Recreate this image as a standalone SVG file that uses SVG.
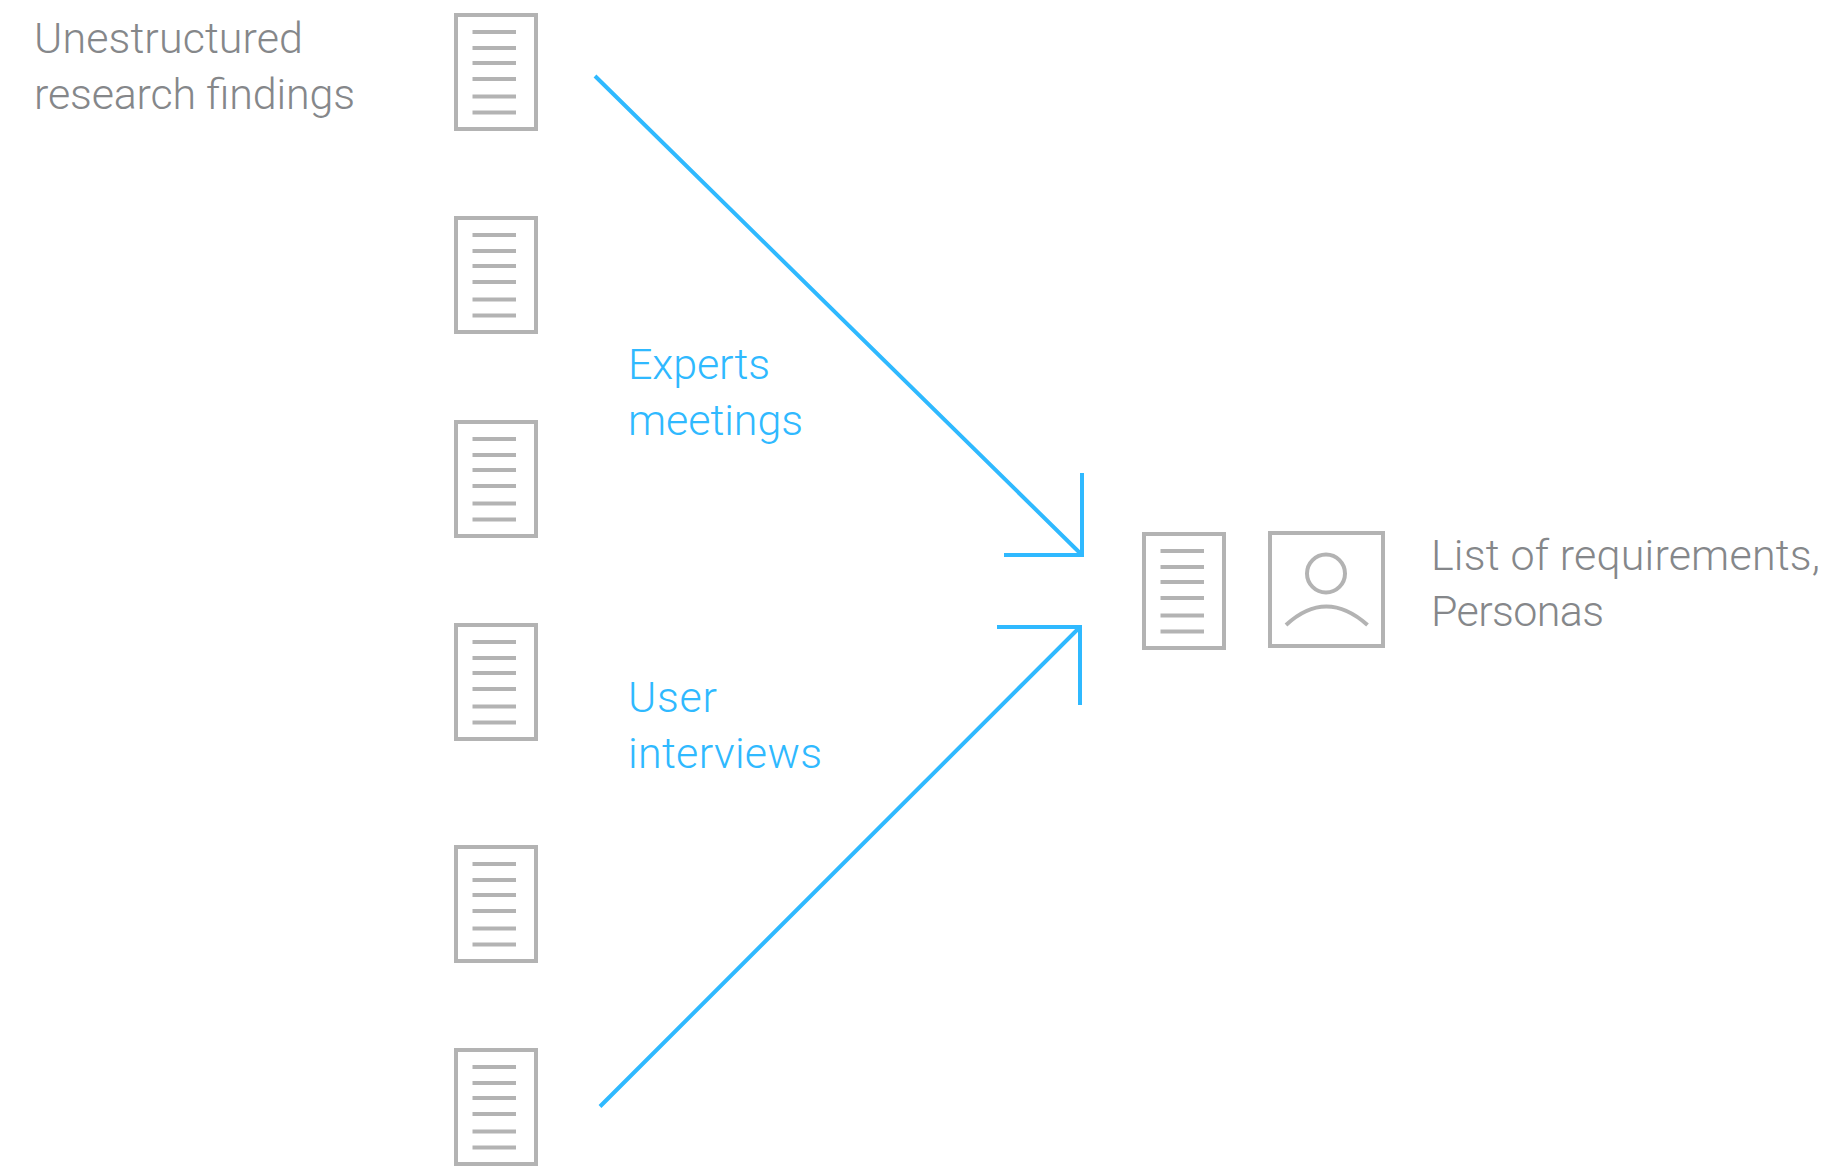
<svg xmlns="http://www.w3.org/2000/svg" xmlns:xlink="http://www.w3.org/1999/xlink" width="1830" height="1166" viewBox="0 0 1830 1166">
<style>
text{font-family:Roboto,"Liberation Sans",sans-serif;font-weight:300;font-size:43px}
.g{fill:#85878a}
.b{fill:#2fb9ff}
.s{fill:none;stroke:#b3b3b3;stroke-width:4}
.c{fill:none;stroke:#2fb9ff;stroke-width:4}
</style>
<defs>
<g id="doc">
<rect class="s" x="2" y="2" width="80" height="114"/>
<path class="s" d="M18.500 19H62M18.500 35H62M18.500 50H62M18.500 66H62M18.500 83.500H62M18.500 99.500H62"/>
</g>
</defs>
<rect width="1830" height="1166" fill="#fff"/>
<g id="label-unstructured"><text class="g" x="34" y="53" textLength="269">Unestructured</text><text class="g" x="34" y="109" textLength="321">research findings</text></g>
<g id="doc-1"><use xlink:href="#doc" href="#doc" x="454" y="13"/></g>
<g id="doc-2"><use xlink:href="#doc" href="#doc" x="454" y="216"/></g>
<g id="doc-3"><use xlink:href="#doc" href="#doc" x="454" y="420"/></g>
<g id="doc-4"><use xlink:href="#doc" href="#doc" x="454" y="623"/></g>
<g id="doc-5"><use xlink:href="#doc" href="#doc" x="454" y="845"/></g>
<g id="doc-6"><use xlink:href="#doc" href="#doc" x="454" y="1048"/></g>
<g id="doc-result"><use xlink:href="#doc" href="#doc" x="1142" y="532"/></g>
<g id="persona">
<rect class="s" x="1270" y="533" width="113" height="113"/>
<circle class="s" cx="1326" cy="573.500" r="19"/>
<path class="s" d="M1286 625Q1326 588 1367.500 625"/>
</g>
<g id="label-result"><text class="g" x="1431" y="570" textLength="389">List of requirements,</text><text class="g" x="1431" y="626" textLength="173">Personas</text></g>
<g id="label-experts"><text class="b" x="628" y="379" textLength="142">Experts</text><text class="b" x="628" y="435" textLength="175">meetings</text></g>
<g id="label-users"><text class="b" x="628" y="712" textLength="89">User</text><text class="b" x="628" y="768" textLength="194">interviews</text></g>
<g id="connectors">
<path class="c" d="M595 76L1082 555M1082 473V555H1004"/>
<path class="c" d="M600 1106.500L1080 627M997 627H1080V705"/>
</g>
</svg>
